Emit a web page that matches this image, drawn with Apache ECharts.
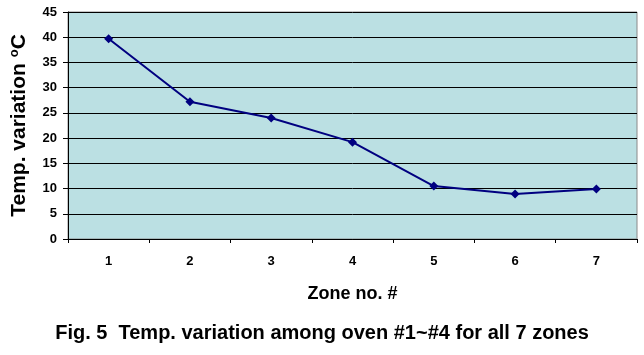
<!DOCTYPE html>
<html><head><meta charset="utf-8">
<script src="https://cdn.jsdelivr.net/npm/echarts@6/dist/echarts.min.js"></script>
<style>html,body{margin:0;padding:0;background:#fff}#c{width:644px;height:355px}</style>
</head><body><div id="c"></div>
<script>
const categories = ['1','2','3','4','5','6','7'];
const values = [39.7, 27.2, 24.0, 19.2, 10.5, 8.9, 9.9];
const yTicks = [0,5,10,15,20,25,30,35,40,45];

const chart = echarts.init(document.getElementById('c'));
chart.setOption({
  animation:false,
  backgroundColor:'#fff',
  grid:{left:67,right:7,top:12,bottom:116,show:true,backgroundColor:'#BBE0E3',borderColor:'#8a8a8a',borderWidth:1},
  xAxis:{type:'category',data:categories,boundaryGap:true,
    name:'Zone no. #',nameLocation:'middle',nameGap:46,
    nameTextStyle:{fontFamily:'Liberation Sans',fontWeight:'bold',fontSize:18,color:'#000'},
    axisLine:{lineStyle:{color:'#000',width:1}},
    axisTick:{show:true,length:4,inside:false,lineStyle:{color:'#000'}},
    axisLabel:{fontFamily:'Liberation Sans',fontWeight:'bold',fontSize:13,color:'#000',margin:16}
  },
  yAxis:{type:'value',min:yTicks[0],max:yTicks[yTicks.length-1],interval:5,
    name:'{a|Temp. variation }{s|o}{a|C}',nameLocation:'middle',nameGap:38,nameRotate:90,
    nameTextStyle:{rich:{
      a:{fontFamily:'Liberation Sans',fontWeight:'bold',fontSize:21,color:'#000'},
      s:{fontFamily:'Liberation Sans',fontWeight:'bold',fontSize:13,color:'#000',verticalAlign:'top',padding:[0,0,9,0]}
    }},
    axisLine:{show:true,lineStyle:{color:'#000',width:1}},
    axisTick:{show:true,length:5,lineStyle:{color:'#000'}},
    axisLabel:{fontFamily:'Liberation Sans',fontWeight:'bold',fontSize:13,color:'#000',margin:11},
    splitLine:{show:true,lineStyle:{color:'#000',width:1}}
  },
  series:[{type:'line',data:values,symbol:'diamond',symbolSize:9,
    lineStyle:{color:'#000080',width:2},itemStyle:{color:'#000080'}}],
  graphic:[{type:'text',left:'center',top:323,style:{text:'Fig. 5  Temp. variation among oven #1~#4 for all 7 zones',
    font:'bold 20px "Liberation Sans"',fill:'#000'}}]
});
</script></body></html>
